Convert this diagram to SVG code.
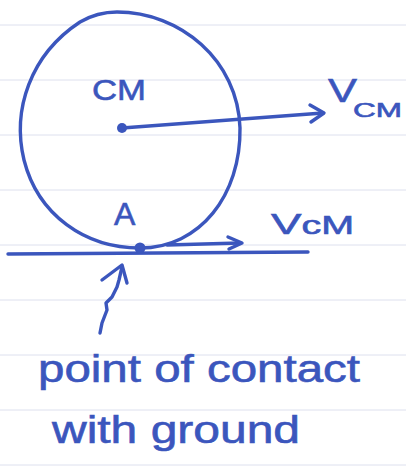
<svg xmlns="http://www.w3.org/2000/svg" width="406" height="470" viewBox="0 0 406 470">
<style>
.rule{stroke:#dde0ee;stroke-width:1}
.ink{fill:none;stroke:#3b56bd;stroke-width:3.4;stroke-linecap:round;stroke-linejoin:round}
.dot{fill:#3b56bd}
.lbl{fill:#3b56bd;stroke:#3b56bd;stroke-width:0.6;font-family:"Liberation Sans","DejaVu Sans",sans-serif}
</style>
<rect width="406" height="470" fill="#ffffff"/>
<g id="paper-rules">
<line class="rule" x1="0" y1="25" x2="406" y2="25"/>
<line class="rule" x1="0" y1="80" x2="406" y2="80"/>
<line class="rule" x1="0" y1="135" x2="406" y2="135"/>
<line class="rule" x1="0" y1="190" x2="406" y2="190"/>
<line class="rule" x1="0" y1="245" x2="406" y2="245"/>
<line class="rule" x1="0" y1="300" x2="406" y2="300"/>
<line class="rule" x1="0" y1="355" x2="406" y2="355"/>
<line class="rule" x1="0" y1="410" x2="406" y2="410"/>
<line class="rule" x1="0" y1="465" x2="406" y2="465"/>
</g>
<g id="wheel">
<path class="ink" d="M117,12 C180,12 238,60 240,128 C241,195 200,248 140,248 C85,248 38,215 24,160 C12,110 30,55 80,22 C92,15 104,12 117,12 Z"/>
</g>
<g id="ground">
<path class="ink" d="M8,254 L308,252"/>
</g>
<g id="cm">
<circle class="dot" cx="122" cy="128" r="5"/>
<text class="lbl" x="92" y="100" font-size="30" textLength="54" lengthAdjust="spacingAndGlyphs">CM</text>
</g>
<g id="point-a">
<circle class="dot" cx="140" cy="248" r="5.5"/>
<text class="lbl" x="114" y="225" font-size="32">A</text>
</g>
<g id="vcm-top">
<text class="lbl" x="328" y="102" font-size="34" textLength="29" lengthAdjust="spacingAndGlyphs">V</text>
<text class="lbl" x="353" y="117" font-size="20" textLength="49" lengthAdjust="spacingAndGlyphs">CM</text>
</g>
<g id="vcm-bottom">
<text class="lbl" x="271" y="234" font-size="29" textLength="83" lengthAdjust="spacingAndGlyphs">V<tspan font-size="25">cM</tspan></text>
</g>
<g id="contact-label">
<text class="lbl" x="38" y="382" font-size="38" textLength="322" lengthAdjust="spacingAndGlyphs">point of contact</text>
<text class="lbl" x="52" y="443" font-size="38" textLength="248" lengthAdjust="spacingAndGlyphs">with ground</text>
</g>
<g id="connectors">
<path class="ink" d="M122,128 L323,113"/>
<path class="ink" d="M310,105 L324,113 L311,122"/>
<path class="ink" d="M167,245 L240,243"/>
<path class="ink" d="M228,237 L242,243 L229,249"/>
<path class="ink" d="M100,333 L102,323 L107,310 L106,303 L112,297 L117,287 L119,280 L122,267"/>
<path class="ink" d="M102,280 L122,265 L127,283"/>
</g>
</svg>
